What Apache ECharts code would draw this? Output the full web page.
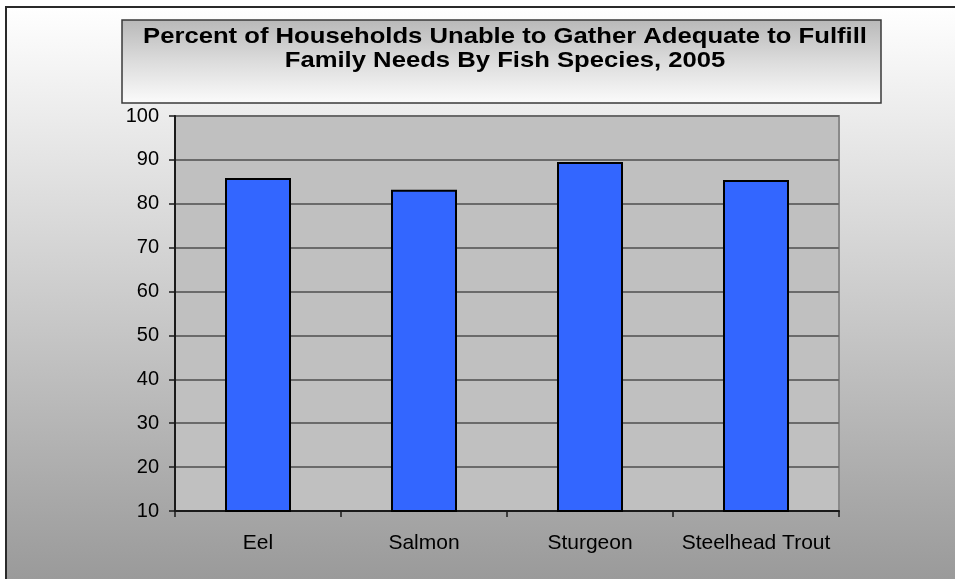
<!DOCTYPE html>
<html>
<head>
<meta charset="utf-8">
<script src="https://cdn.jsdelivr.net/npm/echarts@6/dist/echarts.min.js"></script>
<style>
  html, body { margin: 0; padding: 0; background: #fff; }
  #chart { width: 955px; height: 579px; }
</style>
</head>
<body>
<div id="chart"></div>
<script>
// Species on the category axis
const species = ['Eel', 'Salmon', 'Sturgeon', 'Steelhead Trout'];
// Percent of households unable to gather enough of each species
const percentUnable = [85.9, 83.2, 89.5, 85.4];
// Value axis range and step
const yMin = 10;
const yMax = 100;
const yStep = 10;
const titleLines = [
  'Percent of Households Unable to Gather Adequate to Fulfill',
  'Family Needs By Fish Species, 2005'
];

const FONT = '"Liberation Sans", Arial, sans-serif';

const chart = echarts.init(document.getElementById('chart'), null, { renderer: 'canvas' });

chart.setOption({
  backgroundColor: '#ffffff',
  animation: false,
  graphic: [
    {
      // chart area frame with vertical white-to-gray fade
      type: 'rect',
      z: -10,
      silent: true,
      shape: { x: 6, y: 7, width: 1200, height: 900 },
      style: {
        fill: new echarts.graphic.LinearGradient(0, 0, 0, 1, [
          { offset: 0, color: '#ffffff' },
          { offset: 0.636, color: '#9a9a9a' },
          { offset: 1, color: '#9a9a9a' }
        ]),
        stroke: '#2a2a2a',
        lineWidth: 2
      }
    },
    {
      // title box
      type: 'rect',
      z: 5,
      silent: true,
      shape: { x: 122, y: 20, width: 759, height: 83 },
      style: {
        fill: new echarts.graphic.LinearGradient(0, 0, 0, 1, [
          { offset: 0, color: '#b8b8b8' },
          { offset: 0.5, color: '#dcdcdc' },
          { offset: 1, color: '#fbfbfb' }
        ]),
        stroke: '#3a3a3a',
        lineWidth: 1.5
      }
    },
    {
      type: 'text',
      z: 6,
      silent: true,
      x: 505,
      y: 25,
      scaleX: 1.14,
      style: {
        text: titleLines.join('\n'),
        align: 'center',
        verticalAlign: 'top',
        font: 'bold 22.5px ' + FONT,
        lineHeight: 24,
        fill: '#000'
      }
    }
  ],
  grid: {
    left: 175,
    right: 116,
    top: 116,
    bottom: 68,
    show: true,
    backgroundColor: '#c0c0c0',
    borderColor: '#8a8a8a',
    borderWidth: 2
  },
  xAxis: {
    type: 'category',
    data: species,
    boundaryGap: true,
    axisLine: { show: true, lineStyle: { color: '#1a1a1a', width: 2 } },
    axisTick: { show: true, interval: 0, length: 6, lineStyle: { color: '#1a1a1a', width: 1.5 } },
    axisLabel: {
      interval: 0,
      color: '#000',
      fontFamily: FONT,
      fontSize: 21,
      margin: 22
    },
    splitLine: { show: false }
  },
  yAxis: {
    type: 'value',
    min: yMin,
    max: yMax,
    interval: yStep,
    axisLine: { show: true, lineStyle: { color: '#1a1a1a', width: 2 } },
    axisTick: { show: true, length: 6, lineStyle: { color: '#1a1a1a', width: 1.5 } },
    axisLabel: {
      color: '#000',
      fontFamily: FONT,
      fontSize: 20,
      margin: 16
    },
    splitLine: { show: true, lineStyle: { color: '#6a6a6a', width: 2 } }
  },
  series: [
    {
      type: 'bar',
      data: percentUnable,
      barWidth: 66,
      itemStyle: {
        color: '#3366ff',
        borderColor: '#000',
        borderWidth: 2
      }
    }
  ]
});
</script>
</body>
</html>
